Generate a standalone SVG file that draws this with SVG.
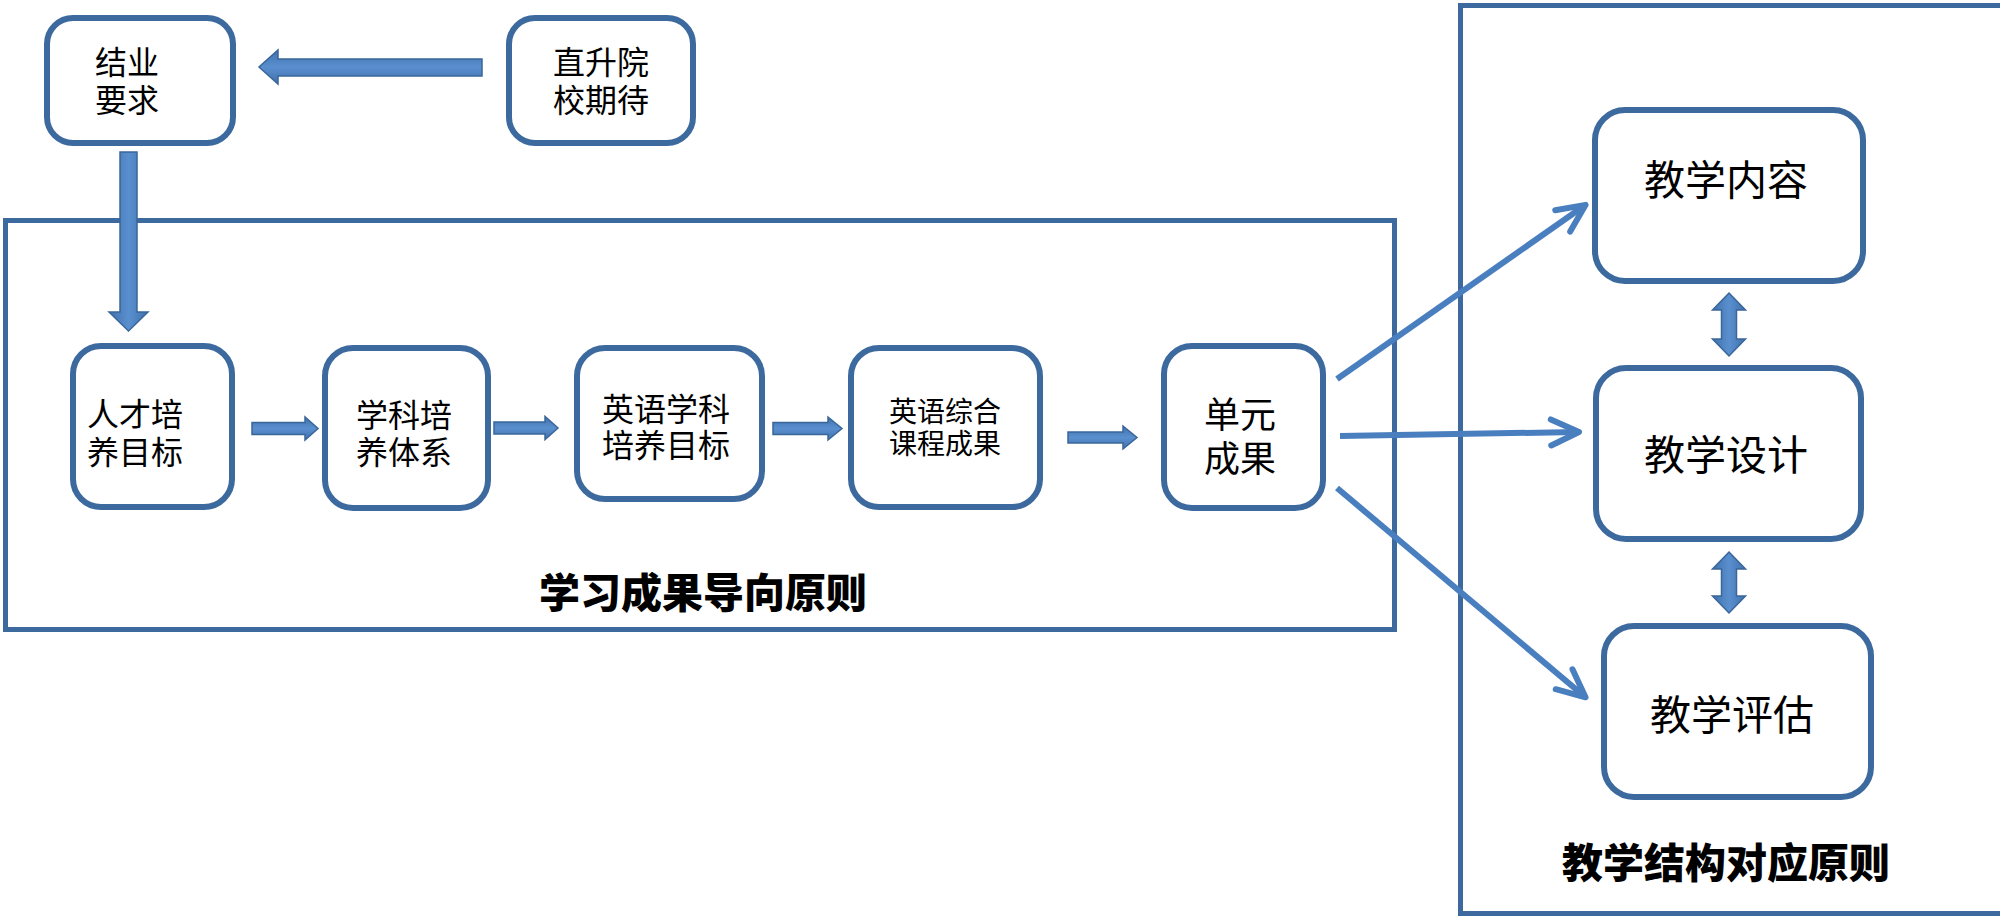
<svg xmlns="http://www.w3.org/2000/svg" width="2000" height="919" viewBox="0 0 2000 919">
  <style>
    .frame { fill: none; stroke: #3d6a9e; stroke-width: 5; }
    .box { fill: #ffffff; stroke: #3d6a9e; stroke-width: 6; }
    .t { font-family: "Noto Sans CJK SC", "Noto Sans", sans-serif; fill: #000000; text-anchor: middle; }
    .title { font-family: "Noto Sans CJK SC", "Noto Sans", sans-serif; fill: #000000; text-anchor: middle; font-weight: 900; font-size: 41px; }
    .blockh { fill: url(#gh); stroke: #3a6699; stroke-width: 1.5; stroke-linejoin: miter; }
    .blockv { fill: url(#gv); stroke: #3a6699; stroke-width: 1.5; stroke-linejoin: miter; }
    .line { fill: none; stroke: #4a7fbf; stroke-width: 6; marker-end: url(#vhead); }
  </style>
  <defs>
    <linearGradient id="gh" x1="0" y1="0" x2="0" y2="1">
      <stop offset="0" stop-color="#3f71ab"/>
      <stop offset="0.5" stop-color="#5a8fcf"/>
      <stop offset="1" stop-color="#3f71ab"/>
    </linearGradient>
    <linearGradient id="gv" x1="0" y1="0" x2="1" y2="0">
      <stop offset="0" stop-color="#3f71ab"/>
      <stop offset="0.5" stop-color="#5a8fcf"/>
      <stop offset="1" stop-color="#3f71ab"/>
    </linearGradient>
    <marker id="vhead" markerUnits="userSpaceOnUse" viewBox="-34 -20 40 40" refX="-2" refY="0" markerWidth="40" markerHeight="40" orient="auto">
      <path d="M-28,-13 L0,0 L-28,13" fill="none" stroke="#4a7fbf" stroke-width="6" stroke-linecap="round" stroke-linejoin="round"/>
    </marker>
  </defs>

  <g id="frames">
    <rect id="frame-outcome" class="frame" x="5.5" y="220.5" width="1389" height="409"/>
    <rect id="frame-structure" class="frame" x="1460.5" y="5.5" width="1533" height="908"/>
  </g>

  <g id="n-jieye">
    <rect class="box" x="47" y="18" width="186" height="125" rx="26"/>
    <text class="t" font-size="32" x="127" y="74">结业<tspan x="127" dy="38">要求</tspan></text>
  </g>
  <g id="n-zhisheng">
    <rect class="box" x="509" y="18" width="184" height="125" rx="26"/>
    <text class="t" font-size="32" x="601" y="74">直升院<tspan x="601" dy="38">校期待</tspan></text>
  </g>
  <g id="n-rencai">
    <rect class="box" x="73" y="346" width="159" height="161" rx="28"/>
    <text class="t" font-size="32" x="135" y="426">人才培<tspan x="135" dy="38">养目标</tspan></text>
  </g>
  <g id="n-xueke">
    <rect class="box" x="325" y="348" width="163" height="160" rx="28"/>
    <text class="t" font-size="32" x="404" y="427">学科培<tspan x="404" dy="37">养体系</tspan></text>
  </g>
  <g id="n-yingyuxueke">
    <rect class="box" x="577" y="348" width="185" height="151" rx="28"/>
    <text class="t" font-size="32" x="666" y="420.5">英语学科<tspan x="666" dy="36.5">培养目标</tspan></text>
  </g>
  <g id="n-yingyuzonghe">
    <rect class="box" x="851" y="348" width="189" height="159" rx="28"/>
    <text class="t" font-size="28" x="945" y="422">英语综合<tspan x="945" dy="32">课程成果</tspan></text>
  </g>
  <g id="n-danyuan">
    <rect class="box" x="1164" y="346" width="159" height="162" rx="28"/>
    <text class="t" font-size="36" x="1240" y="428">单元<tspan x="1240" dy="44">成果</tspan></text>
  </g>
  <g id="n-neirong">
    <rect class="box" x="1595" y="110" width="268" height="171" rx="30"/>
    <text class="t" font-size="41" x="1726" y="195">教学内容</text>
  </g>
  <g id="n-sheji">
    <rect class="box" x="1596" y="368" width="265" height="171" rx="30"/>
    <text class="t" font-size="41" x="1726" y="470">教学设计</text>
  </g>
  <g id="n-pinggu">
    <rect class="box" x="1604" y="626" width="267" height="171" rx="30"/>
    <text class="t" font-size="41" x="1732" y="730">教学评估</text>
  </g>

  <g id="connectors">
    <polygon class="blockh" points="482,59 278,59 278,50 259,67 278,84 278,76 482,76"/>
    <polygon class="blockv" points="120,152 137,152 137,312 148,312 128.5,331 109,312 120,312"/>
    <polygon class="blockh" points="252,422.5 305,422.5 305,417 318,428.5 305,440 305,434.5 252,434.5"/>
    <polygon class="blockh" points="494,422 545,422 545,416.5 558,428 545,439.5 545,434 494,434"/>
    <polygon class="blockh" points="773,422.5 828,422.5 828,417 842,428.5 828,440 828,434.5 773,434.5"/>
    <polygon class="blockh" points="1068,432 1123,432 1123,426 1137,437.5 1123,449 1123,443 1068,443"/>
    <polygon class="blockv" points="1729,293 1745.5,310 1736.5,310 1736.5,339 1745.5,339 1729,356 1712.5,339 1721.5,339 1721.5,310 1712.5,310"/>
    <polygon class="blockv" points="1729,552 1745.5,569 1736.5,569 1736.5,596 1745.5,596 1729,613 1712.5,596 1721.5,596 1721.5,569 1712.5,569"/>
    <line class="line" x1="1337" y1="379" x2="1584" y2="206"/>
    <line class="line" x1="1340" y1="436" x2="1577" y2="432"/>
    <line class="line" x1="1337" y1="488" x2="1584" y2="696"/>
  </g>

  <g id="labels">
    <text class="title" x="703" y="608">学习成果导向原则</text>
    <text class="title" x="1726" y="878">教学结构对应原则</text>
  </g>
</svg>
